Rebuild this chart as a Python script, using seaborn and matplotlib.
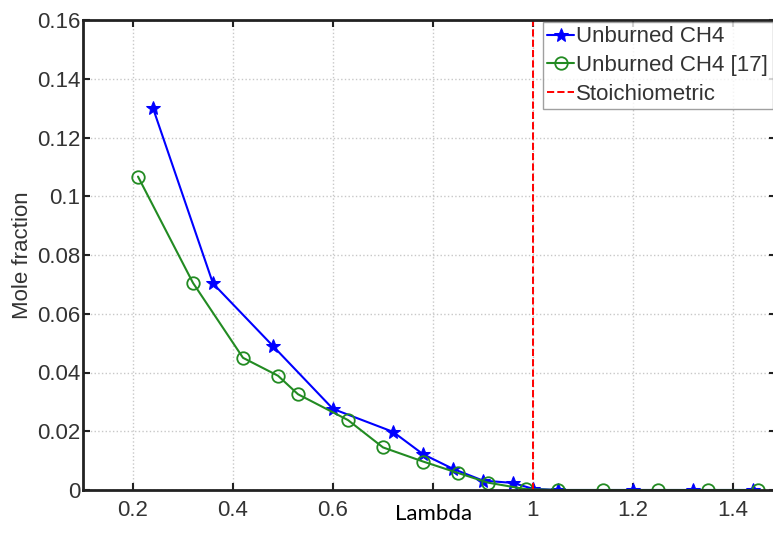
import matplotlib
matplotlib.use("Agg")
import matplotlib.pyplot as plt
import seaborn as sns
import pandas as pd
from matplotlib.ticker import FuncFormatter

# ---- data ----
lam_sim = [0.24, 0.36, 0.48, 0.60, 0.72, 0.78, 0.84, 0.90, 0.96, 1.00, 1.05, 1.20, 1.32, 1.44]
ch4_sim = [0.130, 0.0703, 0.049, 0.0276, 0.0198, 0.0122, 0.0072, 0.0032, 0.0024, 0.0004, 0.0, 0.0, 0.0, 0.0]

lam_ref = [0.21, 0.32, 0.42, 0.49, 0.53, 0.63, 0.70, 0.78, 0.85, 0.91, 0.985, 1.05, 1.14, 1.25, 1.35, 1.45]
ch4_ref = [0.1067, 0.0705, 0.0450, 0.0389, 0.0326, 0.0238, 0.0145, 0.0097, 0.0058, 0.0025, 0.0003, 0.0, 0.0, 0.0, 0.0, 0.0]

stoich = 1.0
xticks = [0.2, 0.4, 0.6, 0.8, 1.0, 1.2, 1.4]
yticks = [0, 0.02, 0.04, 0.06, 0.08, 0.1, 0.12, 0.14, 0.16]

labels = ["Unburned CH4", "Unburned CH4 [17]", "Stoichiometric"]

sns.set_style("ticks")
plt.rcParams["font.family"] = ["Liberation Sans", "DejaVu Sans"]

W, H = 773, 534
fig = plt.figure(figsize=(W / 100, H / 100), dpi=100)
left, right, top, bottom = 83, 776, 20, 490
ax = fig.add_axes([left / W, 1 - bottom / H, (right - left) / W, (bottom - top) / H])

df_sim = pd.DataFrame({"lam": lam_sim, "ch4": ch4_sim})
df_ref = pd.DataFrame({"lam": lam_ref, "ch4": ch4_ref})

sns.lineplot(data=df_sim, x="lam", y="ch4", ax=ax, color="#0000ff", marker="*",
             markersize=10, markeredgecolor="#0000ff", linewidth=1.5, label=labels[0], sort=False)
sns.lineplot(data=df_ref, x="lam", y="ch4", ax=ax, color="#228b22", marker="o",
             markersize=9, markerfacecolor="none", markeredgecolor="#228b22",
             markeredgewidth=1.3, linewidth=1.5, label=labels[1], sort=False)
ax.axvline(stoich, color="red", linestyle="--", linewidth=1.4, label=labels[2])

ax.set_xlim(0.1, 0.1 + (right - left) / 500)
ax.set_ylim(0, 0.16)
ax.set_xticks(xticks)
ax.set_yticks(yticks)
ax.xaxis.set_major_formatter(FuncFormatter(lambda v, p: "%g" % round(v, 3)))
ax.yaxis.set_major_formatter(FuncFormatter(lambda v, p: "%g" % round(v, 3)))
ax.grid(True, color="#c8c8c8", linestyle=":", linewidth=1.0)
ax.set_axisbelow(True)

for s in ax.spines.values():
    s.set_linewidth(2.0)
    s.set_color("#222222")
ax.tick_params(direction="in", length=5, width=1.5, labelsize=16, colors="#222222",
               labelcolor="#333333", top=True, right=True)
ax.tick_params(axis="y", pad=2)
ax.tick_params(axis="x", pad=7)

ax.set_xlabel("")
ax.set_ylabel("Mole fraction", fontsize=16, color="#333333", labelpad=3)

leg = ax.legend(loc="upper left",
                bbox_to_anchor=((543 - left) / (right - left), 1 - 2 / (bottom - top)),
                fontsize=16, frameon=True, fancybox=False, edgecolor="#888888",
                handlelength=1.2, handletextpad=0.1, borderpad=0.2, labelspacing=0.35,
                borderaxespad=0)
leg.get_frame().set_linewidth(1.0)
for t in leg.get_texts():
    t.set_color("#333333")

fig.text(434 / W, 1 - 514 / H, "Lambda", ha="center", va="center", fontsize=16,
         family=["Lato", "DejaVu Sans"], color="black",
         bbox=dict(facecolor="white", edgecolor="none", pad=2))

fig.savefig("out.png", dpi=100)
